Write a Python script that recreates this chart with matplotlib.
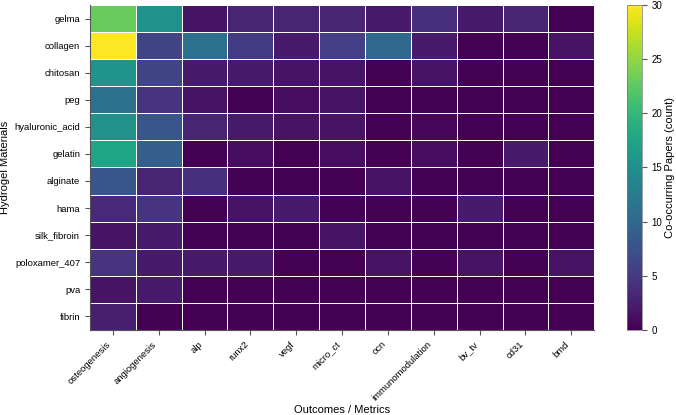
import matplotlib.pyplot as plt
import numpy as np

plt.rcParams['font.family'] = ['Liberation Sans', 'DejaVu Sans']

materials = ['gelma', 'collagen', 'chitosan', 'peg', 'hyaluronic_acid', 'gelatin',
             'alginate', 'hama', 'silk_fibroin', 'poloxamer_407', 'pva', 'fibrin']
outcomes = ['osteogenesis', 'angiogenesis', 'alp', 'runx2', 'vegf', 'micro_ct',
            'ocn', 'immunomodulation', 'bv_tv', 'cd31', 'bmd']

# co-occurrence counts, one list per material (columns follow outcomes)
gelma = [23, 15, 1.5, 3, 3, 3, 2, 4, 2, 3, 0]
collagen = [30, 6, 11, 5, 2, 5.5, 10, 2, 0, 0, 1.5]
chitosan = [15.5, 6, 2, 2, 1.5, 1.5, 0, 1.5, 0, 0, 0]
peg = [11, 4.5, 1.5, 0, 1, 1.5, 0, 0, 0, 0, 0]
hyaluronic_acid = [15, 8, 3, 2, 1.5, 1.5, 0, 0.5, 0, 0, 0]
gelatin = [17.5, 9, 0, 1, 0, 1, 0, 1, 0, 2, 0]
alginate = [8, 3, 4, 0, 0, 0, 1.5, 0, 0, 0, 0]
hama = [3.5, 4.5, 0, 1.5, 2, 0, 0, 0, 2, 0, 0]
silk_fibroin = [1.5, 2, 0, 0, 0, 1.5, 0, 0, 0, 0, 0]
poloxamer_407 = [4.5, 2, 2, 2, 0, 0, 1.5, 0, 1.5, 0, 1.5]
pva = [1.5, 2, 0, 0, 0, 0, 0, 0, 0, 0, 0]
fibrin = [2.5, 0, 0, 0, 0, 0, 0, 0, 0, 0, 0]

counts = np.array([gelma, collagen, chitosan, peg, hyaluronic_acid, gelatin,
                   alginate, hama, silk_fibroin, poloxamer_407, pva, fibrin])

fig = plt.figure(figsize=(6.76, 4.15), dpi=100)
ax = fig.add_axes([0.133, 0.205, 0.746, 0.783])
cax = fig.add_axes([0.927, 0.205, 0.022, 0.783])

mesh = ax.pcolormesh(counts, cmap='viridis', vmin=0, vmax=30,
                     edgecolor='white', linewidth=0.5)
ax.set_xlim(0, len(outcomes))
ax.set_ylim(len(materials), 0)
ax.set_xticks(np.arange(len(outcomes)) + 0.5)
ax.set_xticklabels(outcomes, rotation=45, ha='right', fontsize=6.8)
ax.set_yticks(np.arange(len(materials)) + 0.5)
ax.set_yticklabels(materials, fontsize=6.8)
ax.set_xlabel('Outcomes / Metrics', fontsize=8, labelpad=2)
ax.set_ylabel('Hydrogel Materials', fontsize=8, labelpad=3)
for side in ['top', 'right']:
    ax.spines[side].set_visible(False)
for side in ['left', 'bottom']:
    ax.spines[side].set_color('#555555')
ax.tick_params(color='#555555', length=3.5, width=0.8)

cbar = fig.colorbar(mesh, cax=cax)
cbar.set_label('Co-occurring Papers (count)', fontsize=8, labelpad=2)
cbar.ax.tick_params(labelsize=7, length=3.5, color='#555555')
cbar.outline.set_linewidth(0.5)
cbar.outline.set_edgecolor('#777777')

fig.savefig('out.png', dpi=100)
